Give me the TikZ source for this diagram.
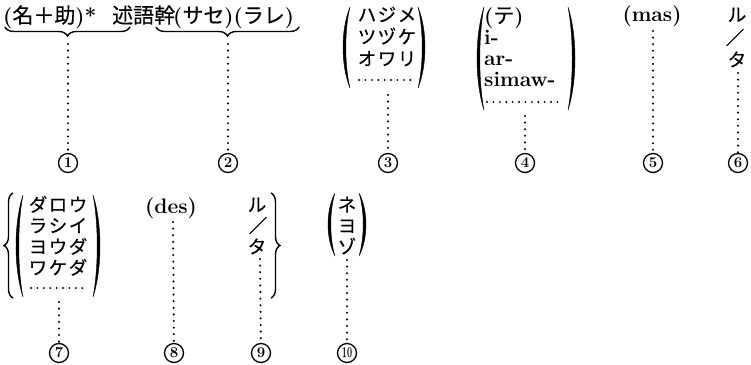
\documentclass[tikz,border=0pt]{standalone}
\usepackage{fontspec}
\usepackage{graphicx}
\newfontfamily\jp{Noto Sans CJK JP}[FakeBold=0.4]
\usetikzlibrary{decorations.pathreplacing}

% Japanese text inside Latin text
\newcommand\J[1]{{\mdseries\jp #1}}
% gap between kana in the stacked lists
\newcommand\kk{\kern1.5pt}

% tall round brackets drawn as filled crescents: x (outermost point), top y, bottom y
\newcommand\lparshape[3]{%
  \fill[parenstroke] ({#1+7},#2) .. controls ({#1-2.33},{#2+0.28*(#3-#2)}) and ({#1-2.33},{#3-0.28*(#3-#2)}) .. ({#1+7},#3)
    .. controls ({#1+1.4},{#3-0.28*(#3-#2)}) and ({#1+1.4},{#2+0.28*(#3-#2)}) .. ({#1+7},#2) -- cycle;}
\newcommand\rparshape[3]{%
  \fill[parenstroke] ({#1-7},#2) .. controls ({#1+2.33},{#2+0.28*(#3-#2)}) and ({#1+2.33},{#3-0.28*(#3-#2)}) .. ({#1-7},#3)
    .. controls ({#1-1.4},{#3-0.28*(#3-#2)}) and ({#1-1.4},{#2+0.28*(#3-#2)}) .. ({#1-7},#2) -- cycle;}

\begin{document}
\begin{tikzpicture}[x=1pt,y=-1pt,
  parenstroke/.style={fill=black,draw=black,line width=0.4pt},
  bracestyle/.style={decorate,decoration={brace,amplitude=9pt},line width=1.4pt},
  dotline/.style={line width=2.3pt,dash pattern=on 0pt off 6.6pt,line cap=round},
  dotrow/.style={line width=2.1pt,dash pattern=on 0pt off 6.4pt,line cap=round},
  headline/.style={inner sep=0pt,anchor=base west,font=\fontsize{21}{24}\selectfont},
  kana/.style={inner sep=0pt,anchor=base,font=\fontsize{18.5}{20}\jp},
  latin/.style={inner sep=0pt,font=\fontsize{21}{24}\bfseries\selectfont},
  num/.style={circle,draw,line width=1.3pt,minimum size=19pt,inner sep=0pt,
              font=\fontsize{15}{15}\bfseries\selectfont}]
\useasboundingbox (0,0) rectangle (751,364);

% ---------- upper line ----------
\node[headline] (h1) at (3,23) {{\bfseries(}\J{名＋助}{\bfseries)*}};
\node[headline] (h2) at (112,23) {\J{述語幹}};
\node[headline] (h3) at (173,23) {{\bfseries(}\J{サセ}{\bfseries)(}\J{ラレ}{\bfseries)}};
\draw[bracestyle] (130,27) -- (5,27);
\draw[bracestyle] (299,27) -- (156,27);
\coordinate (t1) at (68,44);
\coordinate (t2) at (228,44);

% group 3
\lparshape{343}{7}{88}
\rparshape{425}{7}{88}
\node[kana] (g3a) at (387,21.5) {ハ\kk ジ\kk メ};
\node[kana] (g3b) at (387,43.5) {ツ\kk ヅ\kk ケ};
\node[kana] (g3c) at (387,65.5) {オ\kk ワ\kk リ};
\draw[dotrow] (359,80) -- (416,80);
\coordinate (t3) at (388,95);

% group 4
\lparshape{477}{7}{110}
\rparshape{575}{7}{110}
\node[latin,anchor=base west] (g4a) at (484,23) {(\J{テ})};
\node[latin,anchor=base west] (g4b) at (484,44) {i-};
\node[latin,anchor=base west] (g4c) at (484,65) {ar-};
\node[latin,anchor=base west] (g4d) at (484,86) {simaw-};
\draw[dotrow] (487,102) -- (562,102);
\coordinate (t4) at (525,116);

% group 5
\node[latin,anchor=base] (g5) at (652,21) {(mas)};
\coordinate (t5) at (653,31);

% group 6
\node[kana] (g6a) at (737,21.5) {ル};
\node[kana] (g6b) at (735,44.5) {／};
\node[kana] (g6c) at (737,66.5) {タ};
\coordinate (t6) at (738,73);

% ---------- lower line ----------
% group 7
\draw[bracestyle] (13,298) -- (13,193);
\lparshape{16}{195}{297}
\rparshape{100}{195}{297}
\node[kana] (g7a) at (58,211.5) {ダ\kk ロ\kk ウ};
\node[kana] (g7b) at (58,232.5) {ラ\kk シ\kk イ};
\node[kana] (g7c) at (58,253.5) {ヨ\kk ウ\kk ダ};
\node[kana] (g7d) at (58,274.5) {ワ\kk ケ\kk ダ};
\draw[dotrow] (31,288) -- (88,288);
\coordinate (t7) at (59,302);

% group 8
\node[latin,anchor=base] (g8) at (171,213) {(des)};
\coordinate (t8) at (173,222);

% group 9
\node[kana] (g9a) at (257,211.5) {ル};
\node[kana] (g9b) at (258,232.5) {／};
\node[kana] (g9c) at (257,253.5) {タ};
\draw[bracestyle] (271,193) -- (271,298);
\coordinate (t9) at (260,259);

% group 10
\lparshape{328}{193}{256}
\rparshape{366}{193}{256}
\node[kana] (g10a) at (347,211.5) {ネ};
\node[kana] (g10b) at (347,232.5) {ヨ};
\node[kana] (g10c) at (347,253.5) {ゾ};
\coordinate (t10) at (347,260);

% ---------- circled numbers and dotted leaders ----------
\node[num] (n1) at (68,163) {1};
\node[num] (n2) at (228,163) {2};
\node[num] (n3) at (388,163) {3};
\node[num] (n4) at (525,163) {4};
\node[num] (n5) at (653,163) {5};
\node[num] (n6) at (738,163) {6};
\node[num] (n7) at (59,353) {7};
\node[num] (n8) at (174,353) {8};
\node[num] (n9) at (261,353) {9};
\node[num] (n10) at (347,353) {\scalebox{0.6}[1]{10}};

\foreach \i in {1,...,10} \draw[dotline] (t\i) -- (n\i);
\end{tikzpicture}
\end{document}
